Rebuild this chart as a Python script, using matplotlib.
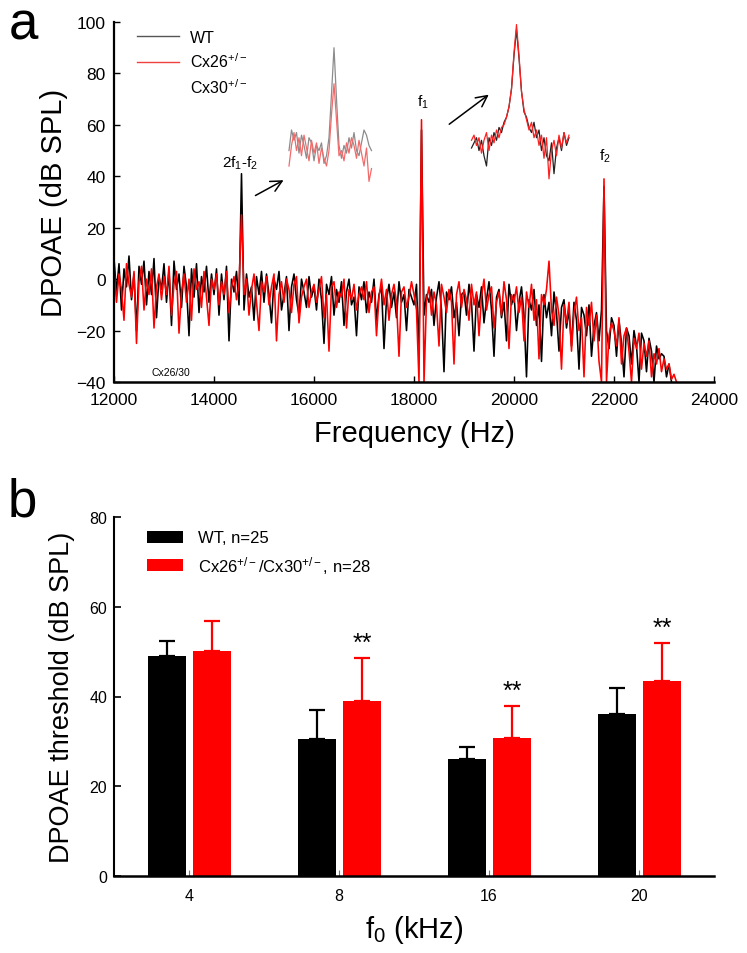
import numpy as np
import matplotlib
matplotlib.use('Agg')
import matplotlib.pyplot as plt
from matplotlib.lines import Line2D

plt.rcParams['font.family'] = ['Liberation Sans', 'DejaVu Sans']
plt.rcParams['mathtext.fontset'] = 'custom'
plt.rcParams['mathtext.rm'] = 'Liberation Sans'
plt.rcParams['mathtext.it'] = 'Liberation Sans'
plt.rcParams['mathtext.default'] = 'regular'

# ---------------- Panel a data: DPOAE spectrum (dB SPL), 50 Hz grid from 12000 Hz
spec_f0 = 12000
spec_df = 50
wt_spec = [
    8, -5, 6, -12, 4, -3, 9, -8, 2, -20, 5, -2, 7, -10, 3, -6, 8, -15, 1, -4,
    6, -9, 3, -18, 7, -4, 2, -11, 5, -3, -22, 4, -7, 6, -13, 1, -5, 5, -9, 2,
    -6, 4, -14, 2, -8, 5, -24, 0, -5, 3, -10, 41, -12, 2, -7, -3, -16, 1, -6, 3,
    -9, 2, -6, -17, 0, -4, 3, -12, -6, 1, -20, -3, 2, -8, -14, 0, -5, -11, 1, -7,
    -3, -12, 0, -8, -25, -2, -6, 1, -14, -4, -9, -1, -18, -5, 0, -10, -7, -22, -3, -8,
    -1, -13, -5, -9, 0, -16, -6, -3, -27, -8, -2, -11, -5, -15, -1, -9, -6, -20, -4, -7,
    -10, -2, -30, 58, -14, -6, -9, -4, -18, -7, -1, -12, -36, -5, -8, -3, -15, -9, -22, -6,
    -5, -14, -2, -9, -28, -6, -11, -3, -17, -8, -1, -12, -30, -7, -4, -15, -9, -24, -2, -10,
    -6, -20, -9, -3, -14, -38, -8, -12, -4, -18, -10, -32, -6, -15, -9, -22, -5, -13, -28, -11,
    -8, -19, -12, -26, -9, -16, -35, -11, -14, -22, -10, -30, -18, -13, -24, -12, 36, -20, -27, -15,
    -18, -30, -16, -25, -38, -19, -22, -33, -20, -26, -40, -21, -24, -36, -23, -28, -40, -26, -31, -29,
    -30, -38, -33, -40,
]
ko_spec = [
    4, -9, 2, -4, -16, 6, -2, -7, 3, -25, -1, 5, -12, 0, -6, 4, -19, -3, 2, -8,
    1, -6, 5, -14, -2, 3, -21, -5, 2, -9, 0, -16, 4, -4, -1, -11, 3, -7, -18, 0,
    -4, 2, -10, -1, -6, 3, -13, -3, 1, -8, -2, 25, -6, 0, -14, -4, 2, -9, -20, -1,
    -5, 1, -10, -3, 2, -24, -6, -1, -9, 0, -4, -13, -2, 1, -17, -7, -3, 0, -11, -5,
    -2, -9, -4, 1, -15, -6, -28, -3, -1, -11, -5, -7, 0, -19, -4, -8, -2, -12, -6, -3,
    -8, -1, -13, -5, -3, -22, -7, 0, -10, -4, -16, -6, -2, -9, -30, -5, -3, -11, -7, -1,
    -6, -12, -40, 62, -40, -8, -3, -14, -5, -10, -26, -2, -7, -13, -4, -9, -33, -6, -1, -11,
    -4, -8, -16, -2, -10, -5, -22, -7, 0, -12, -6, -3, -19, -9, -5, -14, -1, -8, -27, -6,
    -9, -3, -13, -7, -24, -5, -11, -2, -16, -8, -31, -6, -10, -4, 7, -12, -18, -7, -14, -35,
    -10, -17, -9, -28, -13, -7, -20, -15, -38, -11, -18, -9, -24, -14, -32, -40, 39, -40, -22, -17,
    -20, -26, -15, -33, -22, -19, -28, -40, -23, -27, -21, -35, -25, -30, -24, -38, -29, -33, -27, -36,
    -31, -35, -33, -39, -37, -40,
]

# zoomed view of the 2f1-f2 component (drawn in the panel)
inset1_f0 = 15500
inset1_wt = [50, 58, 54, 57, 49, 56, 52, 47, 55, 53, 46, 52, 50, 53, 45, 48, 55, 72, 90,
             70, 52, 47, 52, 49, 55, 51, 57, 50, 48, 53, 58, 56, 52, 50]
inset1_ko = [44, 52, 57, 50, 55, 48, 56, 51, 46, 54, 49, 53, 45, 51, 47, 44, 50, 64, 76,
             62, 48, 50, 46, 53, 49, 55, 52, 47, 54, 49, 44, 51, 38, 43]
# zoomed view of the f1 component
inset2_f0 = 19150
inset2_wt = [51, 53, 55, 50, 54, 48, 44, 55, 52, 57, 54, 59, 57, 61, 63, 67, 74, 87, 97, 86,
             73, 65, 63, 59, 57, 61, 55, 58, 50, 55, 48, 46, 53, 41, 51, 55, 50, 57, 52, 55]
inset2_ko = [54, 56, 52, 55, 49, 54, 57, 50, 56, 53, 58, 55, 59, 60, 63, 67, 74, 88, 99, 87,
             73, 66, 62, 58, 61, 55, 58, 52, 56, 47, 55, 39, 50, 54, 48, 56, 51, 57, 53, 56]

# ---------------- Panel b data
freq_labels = ['4', '8', '16', '20']
wt_thr = [49.0, 30.5, 26.1, 36.1]
wt_err = [3.3, 6.4, 2.6, 5.7]
ko_thr = [50.1, 38.9, 30.7, 43.5]
ko_err = [6.7, 9.7, 7.2, 8.4]
ko_sig = ['', '**', '**', '**']

W, H = 747, 954
fig = plt.figure(figsize=(W / 100, H / 100), dpi=100)


def rect(l, t, r, b):
    return [l / W, 1 - b / H, (r - l) / W, (b - t) / H]


# ================= Panel a
axa = fig.add_axes(rect(114, 23, 714, 383))
fa = spec_f0 + spec_df * np.arange(len(wt_spec))
fb = spec_f0 + spec_df * np.arange(len(ko_spec))
axa.plot(fa, wt_spec, color='black', lw=1.15)
axa.plot(fb, ko_spec, color='#ff0000', lw=1.15)

f1 = inset1_f0 + 50 * np.arange(len(inset1_wt))
axa.plot(f1, inset1_wt, color='#8c8c8c', lw=0.9)
axa.plot(f1, inset1_ko, color='#f46a6a', lw=0.9)
f2 = inset2_f0 + 50 * np.arange(len(inset2_wt))
axa.plot(f2, inset2_wt, color='#222222', lw=0.9)
axa.plot(f2, inset2_ko, color='#ff2020', lw=0.9)

arrow = dict(arrowstyle='->', color='black', lw=1.1, mutation_scale=20)
axa.annotate('', xy=(15440, 39), xytext=(14780, 32), arrowprops=arrow)
axa.annotate('', xy=(19540, 72.4), xytext=(18660, 59.6), arrowprops=arrow)

axa.text(14520, 45.5, '2f$_1$-f$_2$', fontsize=11, ha='center', va='center')
axa.text(18180, 69, 'f$_1$', fontsize=11, ha='center', va='center')
axa.text(21820, 48, 'f$_2$', fontsize=11, ha='center', va='center')
axa.text(12750, -36, 'Cx26/30', fontsize=7.5, ha='left', va='center')

axa.set_xlim(12000, 24000)
axa.set_ylim(-40, 100)
axa.set_xticks(np.arange(12000, 24001, 2000))
axa.set_yticks(np.arange(-40, 101, 20))
axa.tick_params(direction='in', length=4, width=1, labelsize=12.5)
axa.tick_params(axis='x', pad=7)
axa.tick_params(axis='y', pad=6)
for s in ['top', 'right']:
    axa.spines[s].set_visible(False)
axa.spines['left'].set_linewidth(1.6)
axa.spines['bottom'].set_linewidth(1.8)
axa.set_xlabel('Frequency (Hz)', fontsize=21, labelpad=9)
axa.set_ylabel('DPOAE (dB SPL)', fontsize=21, labelpad=6)

leg_a = [Line2D([], [], color='#555555', lw=1),
         Line2D([], [], color='#f04040', lw=1),
         Line2D([], [], color='none', lw=1)]
axa.legend(leg_a, ['WT', 'Cx26$^{+/-}$', 'Cx30$^{+/-}$'], loc='upper left',
           bbox_to_anchor=(0.02, 1.01), frameon=False, fontsize=11.5,
           handlelength=2.6, handletextpad=0.7, labelspacing=0.45, borderpad=0.2)

fig.text(9 / W, 1 - 40 / H, 'a', fontsize=38, ha='left', va='baseline')

# ================= Panel b
axb = fig.add_axes(rect(114, 518, 714, 877))
x = np.arange(len(freq_labels))
bw = 0.254
xw = x - 0.148
xk = x + 0.153
axb.errorbar(xw, wt_thr, yerr=[np.zeros(4), wt_err], fmt='none', ecolor='black',
             elinewidth=1.6, capsize=6, capthick=1.6, zorder=1)
axb.errorbar(xk, ko_thr, yerr=[np.zeros(4), ko_err], fmt='none', ecolor='#ff0000',
             elinewidth=1.6, capsize=6, capthick=1.6, zorder=1)
axb.bar(xw, wt_thr, width=bw, color='black', label='WT, n=25', zorder=2)
axb.bar(xk, ko_thr, width=bw, color='#ff0000',
        label='Cx26$^{+/-}$/Cx30$^{+/-}$, n=28', zorder=2)
for i, s in enumerate(ko_sig):
    if s:
        axb.text(xk[i], ko_thr[i] + ko_err[i] + 1.8, s, fontsize=18,
                 ha='center', va='baseline')

axb.set_xlim(-0.5, 3.5)
axb.set_ylim(0, 80)
axb.set_xticks(x)
axb.set_xticklabels(freq_labels)
axb.set_yticks(np.arange(0, 81, 20))
axb.tick_params(axis='x', direction='in', length=4, width=0.8, color='#777777',
                labelsize=11.5, pad=9)
axb.tick_params(axis='y', direction='in', length=5, width=1.2, labelsize=11.5, pad=5)
for s in ['top', 'right']:
    axb.spines[s].set_visible(False)
axb.spines['left'].set_linewidth(1.5)
axb.spines['bottom'].set_linewidth(1.8)
axb.set_xlabel('f$_0$ (kHz)', fontsize=21, labelpad=7)
axb.set_ylabel('DPOAE threshold (dB SPL)', fontsize=19.5, labelpad=10)
axb.legend(loc='upper left', bbox_to_anchor=(0.035, 0.995), frameon=False, fontsize=12,
           handlelength=2.2, handleheight=0.75, handletextpad=0.9, labelspacing=0.5,
           borderpad=0.2)

fig.text(8 / W, 1 - 517 / H, 'b', fontsize=38, ha='left', va='baseline')

fig.savefig('out.png', dpi=100)
